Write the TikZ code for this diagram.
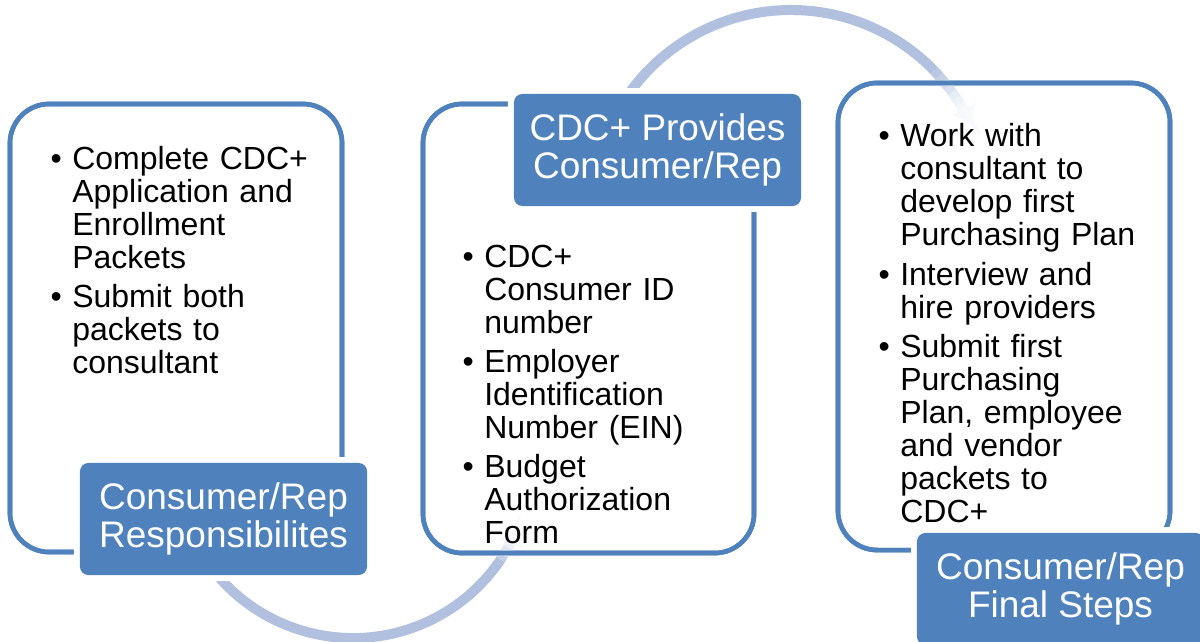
\documentclass[tikz,border=0pt]{standalone}
\usepackage{fontspec}
\setmainfont{Liberation Sans}
\usetikzlibrary{arrows.meta,calc}
\definecolor{accent}{RGB}{79,129,189}
\definecolor{arcc}{RGB}{176,192,222}
\newcommand{\bul}{\makebox[0pt][r]{\textbullet\hspace{7.5pt}}}
\begin{document}
\begin{tikzpicture}[x=0.025cm,y=0.025cm,
  panel/.style={draw=accent, line width=3.3pt, fill=white, rounded corners=28pt, inner sep=0pt, outer sep=0pt},
  rim/.style={draw=accent, line width=3.3pt, rounded corners=28pt},
  tag/.style={fill=accent, rounded corners=6pt,
    preaction={draw=white, line width=8.5pt, rounded corners=6pt},
    minimum width=204.15pt, minimum height=79.67pt, inner sep=0pt,
    text=white, font=\fontsize{26.3pt}{27pt}\selectfont, align=center},
  body/.style={anchor=north west, inner sep=0pt, align=left,
    font=\fontsize{22.76pt}{23.47pt}\selectfont, text width=220pt},
  flow/.style={draw=arcc, line width=7.1pt},
  tip/.style={line width=7.1pt, draw=arcc!10!white, fill=arcc!10!white, -{Triangle[width=18pt,length=11pt]}}
]
\useasboundingbox (0,0) rectangle (1200,641);
\fill[white] (0,0) rectangle (1200,641);

% panels
\node[panel, minimum width=236.16pt, minimum height=318.67pt] (p1) at (176,313) {};
\node[panel, minimum width=235.45pt, minimum height=319.38pt] (p2) at (588.5,312.5) {};
\node[panel, minimum width=236.16pt, minimum height=332.19pt] (p3) at (1004,324.5) {};

% arcs
\coordinate (L) at (353,181);
\coordinate (U) at (791,432);
\draw[flow] ($(L)+(-150:178)$) arc[start angle=-150, end angle=-34, radius=4.45cm];
\foreach \a/\p in {-34/75,-32.5/55,-31/38,-29.5/24} {
  \draw[line width=7.1pt, draw=arcc!\p!white] ($(L)+(\a:178)$) arc[start angle=\a, delta angle=1.8, radius=4.45cm];
}
\draw[tip] ($(L)+(-28:178)$) arc[start angle=-28, delta angle=5, radius=4.45cm];

\draw[flow] ($(U)+(150:199)$) arc[start angle=150, end angle=44, radius=4.975cm];
\foreach \a/\p in {44/88,42/74,40/58,38/44,36/32,34/22,32/15} {
  \draw[line width=7.1pt, draw=arcc!\p!white] ($(U)+(\a:199)$) arc[start angle=\a, delta angle=-2.4, radius=4.975cm];
}
\draw[tip] ($(U)+(31:199)$) arc[start angle=31, delta angle=-5.5, radius=4.975cm];

% panel rims over the arcs
\draw[rim] (p1.south west) rectangle (p1.north east);
\draw[rim] (p2.south west) rectangle (p2.north east);
\draw[rim] (p3.south west) rectangle (p3.north east);

% labels
\node[tag] (t1) at (223.5,122) {Consumer/Rep\\Responsibilites};
\node[tag] (t2) at (657.5,491) {CDC+ Provides\\Consumer/Rep};
\node[tag] (t3) at (1060.5,52) {Consumer/Rep\\Final Steps};

% bodies
\node[body] (b1) at (72,495) {\bul Complete CDC+\\Application and\\Enrollment\\Packets\\[4.5pt]
\bul Submit both\\packets to\\consultant};
\node[body] (b2) at (484,396.5) {\bul CDC+\\Consumer ID\\number\\[4.5pt]
\bul Employer\\Identification\\Number (EIN)\\[4.5pt]
\bul Budget\\Authorization\\Form};
\node[body] (b3) at (900,517.5) {\bul Work with\\consultant to\\develop first\\Purchasing Plan\\[4.5pt]
\bul Interview and\\hire providers\\[4.5pt]
\bul Submit first\\Purchasing\\Plan, employee\\and vendor\\packets to\\CDC+};
\end{tikzpicture}
\end{document}
